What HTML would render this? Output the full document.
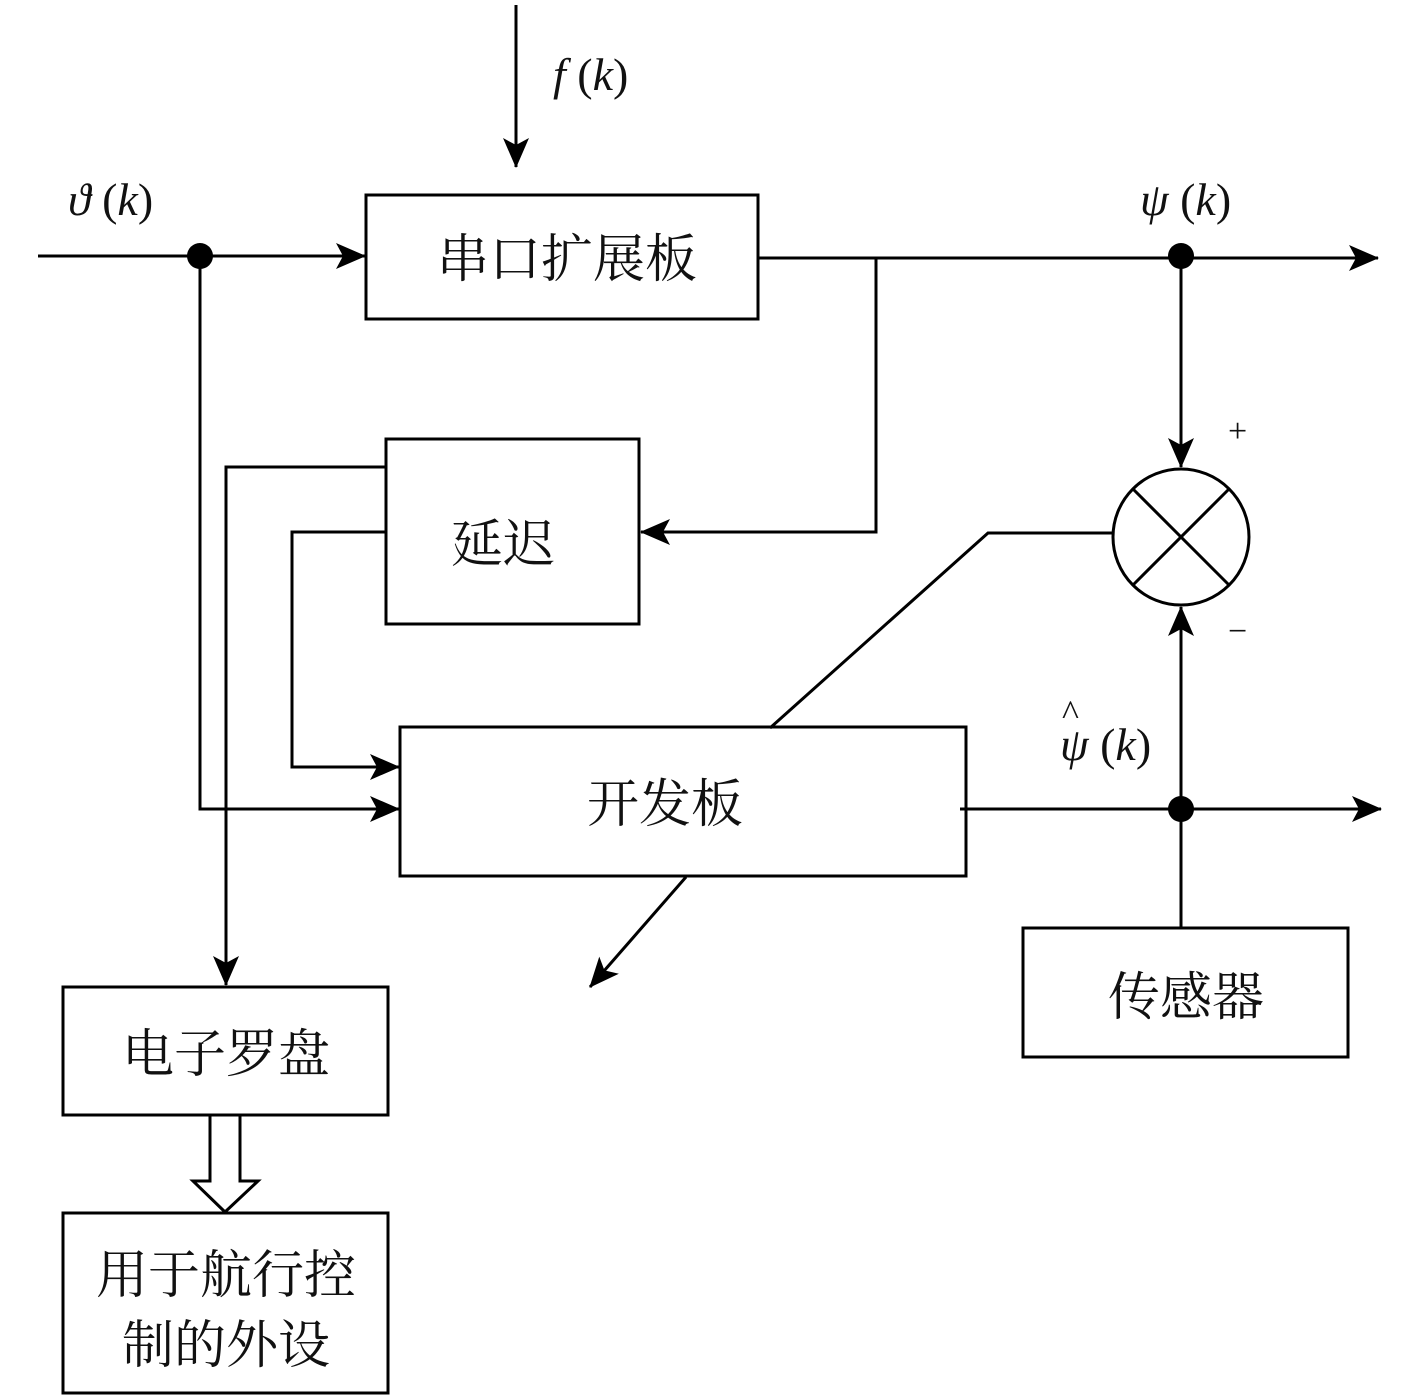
<!DOCTYPE html>
<html><head><meta charset="utf-8"><style>
body{margin:0;background:#fff}
svg{display:block}
.c{font-family:"Liberation Serif","Noto Serif CJK SC","Noto Sans CJK SC",serif;font-size:52px;fill:#111}
.m{font-family:"Liberation Serif",serif;font-size:46px;fill:#111}
</style></head><body>
<svg width="1417" height="1399" viewBox="0 0 1417 1399" xmlns="http://www.w3.org/2000/svg">
<defs><marker id="a" markerWidth="12" markerHeight="10" refX="11" refY="5" orient="auto" markerUnits="userSpaceOnUse" viewBox="0 0 12 10"><path d="M0,0 L12,5 L0,10 L3,5 z" fill="#000"/></marker>
<marker id="b" markerWidth="30" markerHeight="26" refX="29" refY="13" orient="auto" markerUnits="userSpaceOnUse"><path d="M0,0 L30,13 L0,26 L7,13 z" fill="#000"/></marker></defs>
<g stroke="#000" stroke-width="3" fill="none">
<line x1="516" y1="5" x2="516" y2="167" marker-end="url(#b)"/>
<line x1="38" y1="256" x2="365" y2="256" marker-end="url(#b)"/>
<rect x="366" y="195" width="392" height="124" fill="#fff"/>
<line x1="758" y1="258" x2="1378" y2="258" marker-end="url(#b)"/>
<polyline points="876,258 876,532 641,532" marker-end="url(#b)"/>
<rect x="386" y="439" width="253" height="185"/>
<polyline points="386,467 226,467 226,985" marker-end="url(#b)"/>
<polyline points="386,532 292,532 292,767 399,767" marker-end="url(#b)"/>
<polyline points="200,256 200,809 399,809" marker-end="url(#b)"/>
<rect x="400" y="727" width="566" height="149"/>
<line x1="960" y1="809" x2="1381" y2="809" marker-end="url(#b)"/>
<rect x="1023" y="928" width="325" height="129"/>
<line x1="1181" y1="928" x2="1181" y2="607" marker-end="url(#b)"/>
<line x1="1181" y1="256" x2="1181" y2="467" marker-end="url(#b)"/>
<circle cx="1181" cy="537" r="68"/>
<line x1="1133" y1="489" x2="1229" y2="585"/>
<line x1="1229" y1="489" x2="1133" y2="585"/>
<polyline points="1113,533 988,533 770,728"/>
<line x1="686" y1="877" x2="590" y2="987" marker-end="url(#b)"/>
<rect x="63" y="987" width="325" height="128"/>
<path d="M210,1116 L210,1181 L193,1181 L225,1212 L258,1181 L240,1181 L240,1116"/>
<rect x="63" y="1213" width="325" height="180"/>
</g>
<circle cx="200" cy="256" r="13"/>
<circle cx="1181" cy="256" r="13"/>
<circle cx="1181" cy="809" r="13"/>
<g class="c" text-anchor="middle">
<text x="567" y="277">串口扩展板</text>
<text x="503" y="562">延迟</text>
<text x="665" y="822">开发板</text>
<text x="1186" y="1015">传感器</text>
<text x="226" y="1072">电子罗盘</text>
<text x="226" y="1293">用于航行控</text>
<text x="226" y="1363">制的外设</text>
</g>
<g class="m">
<text x="553" y="90"><tspan font-style="italic">f</tspan> (<tspan font-style="italic">k</tspan>)</text>
<text x="68" y="215"><tspan font-style="italic">ϑ</tspan> (<tspan font-style="italic">k</tspan>)</text>
<text x="1140" y="215"><tspan font-style="italic">ψ</tspan> (<tspan font-style="italic">k</tspan>)</text>
<text x="1060" y="760"><tspan font-style="italic">ψ</tspan> (<tspan font-style="italic">k</tspan>)</text>
<text x="1062" y="725" font-size="36">^</text>
<text x="1228" y="442" font-size="34">+</text>
<text x="1228" y="642" font-size="34">−</text>
</g>
</svg>
</body></html>
